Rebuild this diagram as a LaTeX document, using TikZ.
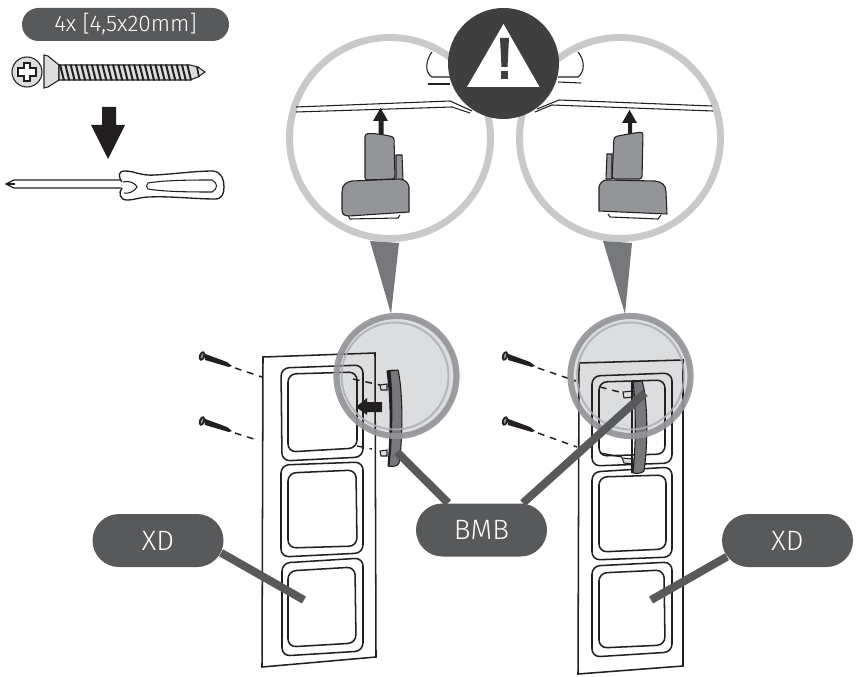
\documentclass[tikz,border=0pt]{standalone}
\usepackage{fontspec}
\setmainfont{Fira Sans Light}
\usetikzlibrary{shapes.misc}
\definecolor{pillgray}{HTML}{58595B}
\definecolor{signgray}{HTML}{3F3F3F}
\definecolor{lensgray}{HTML}{C8C9CA}
\definecolor{conegray}{HTML}{77787B}
\definecolor{partgray}{HTML}{939598}
\definecolor{spotgray}{HTML}{DCDDDE}
\definecolor{inkblack}{HTML}{231F20}
\tikzset{every picture/.style={line width=0.75pt}}
\tikzset{
  pill/.style={rounded rectangle,fill=pillgray,text=white,inner sep=0pt,minimum height=53*0.75pt,minimum width=131*0.75pt,font=\fontsize{21}{23}\selectfont},
  leader/.style={draw=pillgray,line width=6pt},
  lens/.style={draw=lensgray,line width=5.2pt,fill=white},
  spotring/.style={draw=partgray,line width=4.6pt,opacity=0.92},
  spotinner/.style={draw=partgray!75,line width=1.5pt,opacity=0.85},
  plate/.style={draw=inkblack,line width=1.15pt},
  frameline/.style={draw=inkblack,line width=1.15pt,rounded corners=6pt},
  thin line/.style={draw=inkblack,line width=0.8pt},
  dashline/.style={draw=inkblack,line width=1.1pt,dash pattern=on 5pt off 4.5pt},
  solidarrow/.style={fill=inkblack,draw=none},
  clip part/.style={fill=partgray,draw=inkblack,line width=0.8pt,line join=round}
}
\begin{document}
\begin{tikzpicture}[x=0.75pt,y=0.75pt,yscale=-1,xscale=1]
	\useasboundingbox (0,0) rectangle (856,677);

	%Screw top left
	\draw [thin line,fill=spotgray] (27,72) circle (15);
	\draw [thin line,fill=white] (21,68) -- (24,68) -- (24,63) -- (30,63) -- (30,68) -- (36,68) -- (36,76) -- (30,76) -- (30,81) -- (24,81) -- (24,76) -- (18,76) -- (18,68) -- cycle;
	\draw [thin line,fill=spotgray] (44,55) -- (48,56) -- (59,65) -- (59,80) -- (48,87) -- (44,88) -- cycle;
	\draw [thin line,fill=spotgray] (59,65) -- (190,65) -- (198,67) -- (205,72) -- (198,77) -- (190,80) -- (59,80) -- cycle;
	\foreach \tx in {60,65.3,...,192}
		\draw [draw=inkblack,line width=1.5pt] (\tx,64.5) -- (\tx+4,80.5);
	\draw [draw=inkblack,line width=1.3pt] (197,67) -- (199,77);

	%Big arrow
	\fill [solidarrow] (102,107) -- (116,107) -- (116,125) -- (125,125) -- (108,159) -- (91,125) -- (102,125) -- cycle;

	%Screwdriver
	\draw [draw=inkblack,line width=1pt] (121,180) -- (14,180) -- (6,184) -- (14,188) -- (121,188);
	\draw [draw=inkblack,line width=2.2pt] (6,184) -- (15,184);
	\draw [draw=inkblack,line width=1pt] (122,182) .. controls (118,176) and (118,171) .. (125,171) .. controls (135,171) and (140,176) .. (155,175) .. controls (175,174) and (195,171) .. (213,171) .. controls (222,172) and (224,180) .. (224,187) .. controls (224,194) and (222,199) .. (215,199) .. controls (195,199) and (170,196) .. (150,197) .. controls (140,197) and (135,200) .. (127,200) .. controls (120,200) and (118,193) .. (122,188);
	\draw [thin line] (148,183) .. controls (165,180) and (195,180) .. (212,180) .. controls (218,183) and (218,189) .. (212,192) .. controls (195,192) and (165,192) .. (148,189) .. controls (146,187) and (146,185) .. (148,183) -- cycle;
	\draw [thin line] (123,182) .. controls (130,180) and (136,184) .. (137,187) .. controls (134,192) and (128,194) .. (124,193);

	%Left lens
	\draw [lens] (390,138) circle (100.5);
	\draw [thin line] (296,107) -- (450,101) -- (472,111);
	\draw [thin line] (296,112) -- (452,107) -- (470,113);
	\draw [thin line] (432,52) .. controls (426,60) and (424,72) .. (432,77) -- (450,77);
	\draw [thin line] (428,84) -- (450,84);
	\draw [clip part] (396,155) -- (402,155) -- (403,180) -- (396,180) -- cycle;
	\draw [clip part,rounded corners=2pt] (365,134) .. controls (375,133) and (385,135) .. (394,137) -- (395,179) -- (365,180) -- cycle;
	\draw [thin line] (348,215) -- (350,219) -- (398,218) -- (400,215);
	\draw [clip part] (352,181) -- (400,179) .. controls (406,180) and (408,183) .. (409,187) -- (409,212) -- (349,216) .. controls (344,216) and (342,214) .. (342,210) -- (342,192) .. controls (342,185) and (346,182) .. (352,181) -- cycle;
	\fill [solidarrow] (378.5,134) -- (383.5,134) -- (383.5,121) -- (388,121) -- (380.5,108) -- (373,121) -- (378.5,121) -- cycle;

	%Right lens
	\draw [lens] (620,138) circle (100.5);
	\draw [thin line] (537,109) -- (559,100) -- (712,106);
	\draw [thin line] (535,112) -- (552,105) -- (713,111);
	\draw [thin line] (578,52) .. controls (585,60) and (585,72) .. (578,77) -- (558,77);
	\draw [thin line] (558,82) -- (581,83);
	\draw [clip part] (607,154) -- (612,154) -- (612,179) -- (606,179) -- cycle;
	\draw [clip part,rounded corners=2pt] (614,137) .. controls (622,135) and (634,133) .. (643,132) -- (642,179) -- (612,179) -- cycle;
	\draw [thin line] (608,214) -- (610,217) -- (658,219) -- (661,215);
	\draw [clip part] (606,180) -- (655,181) .. controls (662,182) and (666,185) .. (666,192) -- (667,214) -- (599,211) -- (599,187) .. controls (600,183) and (602,181) .. (606,180) -- cycle;
	\fill [solidarrow] (628,134) -- (632,134) -- (632,123) -- (637,123) -- (629.5,110) -- (622,123) -- (628,123) -- cycle;

	%Warning sign
	\fill [signgray] (503.5,63.5) circle (55.5);
	\fill [white] (503.5,24) -- (539.5,87) -- (467,87) -- cycle;
	\fill [signgray] (500,38) -- (509,38) -- (507.5,67) -- (501.5,67) -- cycle;
	\fill [signgray] (501,71) rectangle (508,79);

	%Cones from lens to spot
	\fill [conegray] (370,241) -- (399,243) -- (391,314) -- cycle;
	\fill [conegray] (603,241) -- (632,243) -- (625,314) -- cycle;

	%Spots
	\fill [spotgray] (396.5,376) circle (60);
	\fill [spotgray] (630.5,376) circle (60);

	%Left plate
	\draw [plate] (263,357) -- (375,353) -- (376,657) -- (262,667) -- cycle;
	\draw [frameline] (281,368) -- (363,365) -- (363,457) -- (282,461) -- cycle;
	\draw [frameline] (288,374) -- (357,372) -- (357,448) -- (288,452) -- cycle;
	\draw [frameline] (281,465) -- (363,462) -- (363,553) -- (281,557) -- cycle;
	\draw [frameline] (288,473) -- (356,470) -- (357,546) -- (288,548) -- cycle;
	\draw [frameline] (282,563) -- (363,558) -- (363,651) -- (282,656) -- cycle;
	\draw [frameline] (288,571) -- (355,567) -- (356,643) -- (288,647) -- cycle;

	%Right plate
	\draw [plate] (579,363) -- (683,360) -- (683,666) -- (578,674) -- cycle;
	\draw [frameline] (592,376) -- (672,373) -- (672,463) -- (592,466) -- cycle;
	\draw [frameline] (599,382) -- (665,380) -- (665,454) -- (599,456) -- cycle;
	\draw [frameline] (592,472) -- (672,467) -- (672,557) -- (592,560) -- cycle;
	\draw [frameline] (599,477) -- (666,475) -- (666,549) -- (599,552) -- cycle;
	\draw [frameline] (592,566) -- (672,562) -- (672,652) -- (592,657) -- cycle;
	\draw [frameline] (599,573) -- (664,570) -- (665,645) -- (599,648) -- cycle;

	%Small screws
	\foreach \sx/\sy in {202/356,202/421,505/356,505/421}{
		\fill [inkblack] (\sx+2,\sy-2.5) -- (\sx+25,\sy+6) -- (\sx+30,\sy+10) -- (\sx+26.8,\sy+11) -- (\sx+3,\sy+4) -- cycle;
		\fill [inkblack,rotate around={18:(\sx,\sy)}] (\sx,\sy) ellipse (3 and 5);
		\fill [partgray,rotate around={18:(\sx,\sy)}] (\sx,\sy) ellipse (1 and 2.8);
	}

	%Dashed lines
	\draw [dashline] (235,368) -- (262,377);
	\draw [dashline] (235,433) -- (257,440);
	\draw [dashline] (353,379) -- (380,385);
	\draw [dashline] (357,446) -- (372,449);
	\draw [dashline] (538,368) -- (576,381);
	\draw [dashline] (538,433) -- (577,447);
	\draw [dashline] (600,387) -- (627,394);
	\draw [draw=inkblack,line width=1pt] (600,453) -- (622,457);

	%Left bracket
	\draw [thin line,fill=spotgray] (380,385) -- (387,384) -- (387,390) -- (381,390) -- cycle;
	\draw [thin line,fill=spotgray] (380,451) -- (387,450) -- (387,456) -- (381,456) -- cycle;
	\draw [clip part,fill=inkblack] (387,371) -- (393,370) .. controls (395,400) and (395,440) .. (392,466) -- (388,466) .. controls (391,430) and (391,400) .. (387,371) -- cycle;
	\draw [clip part,fill=conegray] (390,371) -- (398,370) .. controls (403,390) and (403,440) .. (399,463) .. controls (398,466) and (393,467) .. (389,466) .. controls (392,440) and (393,400) .. (390,371) -- cycle;

	%Right bracket
	\draw [thin line,fill=spotgray] (623,392) -- (633,391) -- (633,397) -- (624,398) -- cycle;
	\draw [thin line,fill=spotgray] (622,458) -- (633,459) -- (633,464) -- (624,463) -- cycle;
	\draw [clip part,fill=conegray] (633,382) -- (642,381) .. controls (648,400) and (648,445) .. (644,471) .. controls (642,473) and (638,474) .. (633,473) .. controls (636,445) and (636,405) .. (633,382) -- cycle;
	\draw [draw=inkblack,line width=0.8pt] (632,382) -- (632,473);

	%Arrow at left bracket
	\fill [solidarrow] (382,402) -- (367,402) -- (367,398) -- (356,407) -- (367,415) -- (367,412) -- (382,412) -- cycle;

	%Spot rings
	\draw [spotring] (396.5,376) circle (60);
	\draw [spotinner] (395,376) circle (53.5);
	\draw [spotring] (630.5,376) circle (60);
	\draw [spotinner] (630.5,376) circle (53.5);

	% Text Node
	\node [pill,minimum width=207*0.75pt,minimum height=33*0.75pt,font=\fontsize{17}{19}\selectfont] (sizetag) at (125.5,24.5) {4x [4,5x20mm]};
	% Text Node
	\node [pill] (xdleft) at (158,540.5) {XD};
	% Text Node
	\node [pill] (bmbtag) at (481.5,530) {BMB};
	% Text Node
	\node [pill] (xdright) at (787.5,540.5) {XD};

	\coordinate (xdleftend) at (304,600);
	\coordinate (xdrightend) at (651,600);
	\coordinate (bmbleftend) at (397,452);
	\coordinate (bmbrightend) at (645,393);

	%Straight Lines
	\draw [leader] (xdleft.-11) -- (xdleftend);
	\draw [leader] (xdright.195) -- (xdrightend);
	\draw [leader] (bmbtag.141) -- (bmbleftend);
	\draw [leader] (bmbtag.33) -- (bmbrightend);
\end{tikzpicture}
\end{document}
